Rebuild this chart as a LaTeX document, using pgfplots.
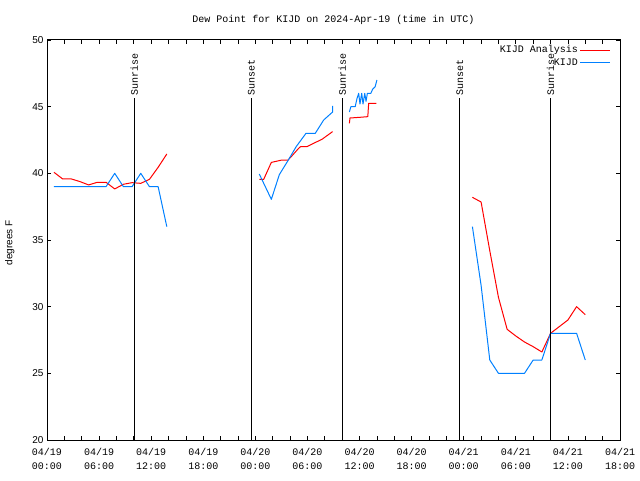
\documentclass[border=0pt]{standalone}
\usepackage{pgfplots}
\pgfplotsset{compat=1.18}
\usepackage{fontspec}
\newfontfamily\monofont{Liberation Mono}
\newfontfamily\sansfont{Liberation Sans}
\definecolor{obsblue}{RGB}{0,128,255}

% hours since 04/19 00:00 UTC, dew point (F)
\pgfplotstableread{
h v
0.8 40.08
1.8 39.58
2.8 39.58
3.8 39.38
4.8 39.13
5.8 39.33
6.8 39.33
7.8 38.83
8.8 39.18
9.8 39.30
10.8 39.25
11.8 39.55
12.8 40.45
13.8 41.45
nan nan
24.45 39.55
24.96 39.55
25.84 40.82
27.07 41.00
27.76 41.00
28.20 41.30
28.99 41.88
29.20 42.00
29.95 42.00
30.70 42.25
31.67 42.55
32.90 43.13
nan nan
34.83 43.75
34.90 44.15
36.00 44.20
36.95 44.25
37.05 45.25
37.95 45.25
nan nan
49 38.20
50 37.85
51 34.20
52 30.70
53 28.30
54 27.80
55 27.35
56 27.00
57 26.60
58 28.00
59 28.50
60 29.00
61 30.00
62 29.40
}\analysis

\pgfplotstableread{
h v
0.8 39
1.8 39
2.8 39
3.8 39
4.8 39
5.8 39
6.8 39
7.8 40
8.8 39
9.8 39
10.8 40
11.8 39
12.8 39
13.8 36
nan nan
24.45 39.95
25.84 38.05
26.76 39.90
27.80 41.00
28.70 42.00
29.83 43.00
30.90 43.00
31.87 44.00
32.64 44.45
32.90 44.60
32.90 45.05
nan nan
34.83 44.60
35.00 45.00
35.50 45.00
35.70 45.60
35.90 46.00
36.05 45.20
36.25 46.00
36.40 45.20
36.60 46.00
36.75 45.40
36.90 46.00
37.30 46.00
37.50 46.30
37.80 46.50
38.00 47.00
nan nan
49 36.0
50 31.6
51 26.0
52 25
53 25
54 25
55 25
56 26
57 26
58 28
59 28
60 28
61 28
62 26
}\obs

\begin{document}
\begin{tikzpicture}[x=1pt,y=1pt]
\path[use as bounding box] (0,0) rectangle (640,480);
\begin{axis}[
    at={(47pt,40pt)}, anchor=south west,
    scale only axis, width=573pt, height=400pt,
    xmin=0, xmax=66, ymin=20, ymax=50,
    xtick={0,6,...,66},
    xticklabels={04/19\\00:00,04/19\\06:00,04/19\\12:00,04/19\\18:00,
                 04/20\\00:00,04/20\\06:00,04/20\\12:00,04/20\\18:00,
                 04/21\\00:00,04/21\\06:00,04/21\\12:00,04/21\\18:00},
    minor x tick num=2,
    ytick={20,25,...,50},
    tick align=inside,
    major tick length=4pt, minor tick length=4pt,
    every tick/.style={black, line width=0.8pt},
    axis line style={line width=1pt},
    xticklabel style={font=\monofont\fontsize{10}{14}\selectfont, align=center, yshift=-5pt},
    yticklabel style={font=\sansfont\fontsize{10}{12}\selectfont,
                      /pgf/number format/assume math mode=true},
    ylabel={degrees F},
    ylabel style={font=\sansfont\fontsize{10}{12}\selectfont,
                  at={(rel axis cs:-0.065,0.4925)}, anchor=center, rotate=0},
    title={Dew Point for KIJD on 2024-Apr-19 (time in UTC)},
    title style={font=\monofont\fontsize{10}{12}\selectfont,
                 at={(rel axis cs:0.5,1)}, anchor=base, yshift=11pt},
    unbounded coords=jump,
    legend plot pos=right,
    legend cell align=right,
    legend image code/.code={\draw[#1] (0pt,0pt) -- (30pt,0pt);},
    legend style={draw=none, fill=none, at={(rel axis cs:0.986,0.99)},
                  anchor=north east, yshift=7pt, text=black,
                  font=\monofont\fontsize{10}{11}\selectfont,
                  row sep=0pt, inner sep=1pt},
]
% blank first row: keeps the colour of the first real entry
\addlegendimage{empty legend}
\addlegendentry{}
\addlegendimage{red, line width=1pt}
\addlegendentry{KIJD Analysis}
\addlegendimage{obsblue, line width=1pt}
\addlegendentry{KIJD}

\addplot[red, line width=1pt, line join=round, forget plot] table[x=h, y=v] {\analysis};
\addplot[obsblue, line width=1pt, line join=round, forget plot] table[x=h, y=v] {\obs};

\addplot[black, line width=1pt, forget plot] coordinates {(10.05,20) (10.05,45.65)};
\addplot[black, line width=1pt, forget plot] coordinates {(23.53,20) (23.53,45.65)};
\addplot[black, line width=1pt, forget plot] coordinates {(34.02,20) (34.02,45.65)};
\addplot[black, line width=1pt, forget plot] coordinates {(47.55,20) (47.55,45.65)};
\addplot[black, line width=1pt, forget plot] coordinates {(58.00,20) (58.00,45.65)};
\begin{scope}[every node/.style={rotate=90, anchor=west, inner sep=2pt,
                                  font=\monofont\fontsize{10}{11}\selectfont}]
\node at (axis cs:10.05,45.65) {Sunrise};
\node at (axis cs:23.53,45.65) {Sunset};
\node at (axis cs:34.02,45.65) {Sunrise};
\node at (axis cs:47.55,45.65) {Sunset};
\node at (axis cs:58.00,45.65) {Sunrise};
\end{scope}
\end{axis}
\end{tikzpicture}
\end{document}
